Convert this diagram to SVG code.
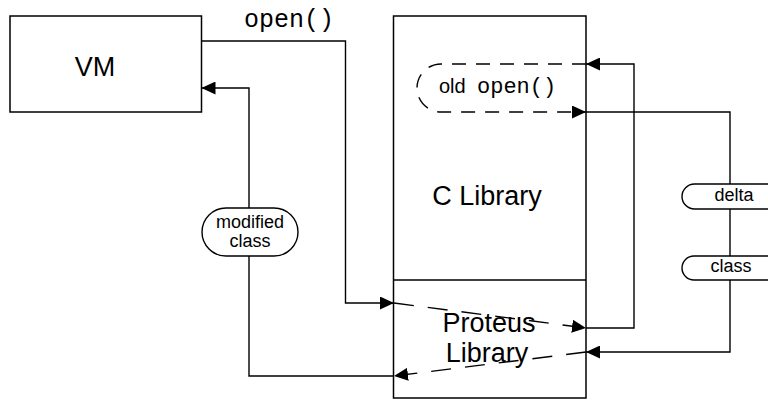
<svg xmlns="http://www.w3.org/2000/svg" width="768" height="400" viewBox="0 0 768 400">
  <style>
    .box { fill: #fff; stroke: #000; stroke-width: 1.5; }
    .pill { fill: #fff; stroke: #000; stroke-width: 1.4; }
    .wire { fill: none; stroke: #000; stroke-width: 1.4; }
    .dash { fill: none; stroke: #000; stroke-width: 1.4; stroke-dasharray: 20 14; }
    .dash-short { fill: none; stroke: #000; stroke-width: 1.4; stroke-dasharray: 14 10; }
    .sans { font-family: "Liberation Sans", Arial, sans-serif; fill: #000; }
    .mono { font-family: "Liberation Mono", "Courier New", monospace; fill: #000; }
    .big { font-size: 27px; }
    .small { font-size: 18px; }
  </style>
  <defs>
    <marker id="head" markerWidth="14" markerHeight="13" refX="14" refY="6.5" orient="auto" markerUnits="userSpaceOnUse">
      <path d="M0,0 L14,6.5 L0,13 Z" fill="#000"/>
    </marker>
  </defs>

  <rect width="768" height="400" fill="#fff"/>

  <!-- VM block -->
  <g id="vm">
    <rect class="box" x="10" y="16" width="191.5" height="96"/>
    <text class="sans big" x="95" y="76" text-anchor="middle">VM</text>
  </g>

  <!-- C library with the Proteus layer below it -->
  <g id="c-library">
    <rect class="box" x="393.5" y="16" width="192.5" height="382"/>
    <text class="sans big" x="487" y="205" text-anchor="middle">C Library</text>
  </g>
  <g id="proteus-library">
    <line class="wire" x1="393.5" y1="280" x2="586" y2="280" style="stroke-width:1.5"/>
    <text class="sans big" x="489" y="332" text-anchor="middle">Proteus</text>
    <text class="sans big" x="487" y="362" text-anchor="middle">Library</text>
  </g>

  <!-- connectors -->
  <g id="connectors">
    <!-- VM calls open() into the Proteus layer -->
    <path class="wire" d="M201.5,41 H345.5 V303 H394" marker-end="url(#head)"/>
    <path class="dash" d="M394,303 L586,328" marker-end="url(#head)"/>
    <!-- Proteus forwards to the original open() -->
    <path class="wire" d="M586,328 H634 V64 H586" marker-end="url(#head)"/>
    <path class="dash-short" d="M586,64 H441 A24,24 0 0 0 441,112 H586" marker-end="url(#head)"/>
    <!-- class bytes go out through the delta stage and come back -->
    <path class="wire" d="M586,112 H730 V184"/>
    <path class="wire" d="M730,209 V256"/>
    <path class="wire" d="M730,280 V352 H586" marker-end="url(#head)"/>
    <path class="dash" d="M586,352 L394,376" marker-end="url(#head)"/>
    <!-- modified class handed back to the VM -->
    <path class="wire" d="M394,376 H249 V256"/>
    <path class="wire" d="M249,208 V88 H201.5" marker-end="url(#head)"/>
  </g>

  <!-- labels -->
  <g id="label-open">
    <text class="mono" x="289" y="27" text-anchor="middle" font-size="25">open()</text>
  </g>
  <g id="label-old-open">
    <text class="sans" x="439" y="93" font-size="20">old</text>
    <text class="mono" x="477" y="93" font-size="22">open()</text>
  </g>
  <g id="label-modified-class">
    <rect class="pill" x="202" y="208" width="96" height="48" rx="24" ry="24"/>
    <text class="sans small" x="250" y="228" text-anchor="middle">modified</text>
    <text class="sans small" x="250" y="247" text-anchor="middle">class</text>
  </g>
  <g id="label-delta">
    <rect class="pill" x="682" y="184" width="110" height="25" rx="12.5" ry="12.5"/>
    <text class="sans small" x="734" y="201" text-anchor="middle">delta</text>
  </g>
  <g id="label-class">
    <rect class="pill" x="682" y="256" width="110" height="24" rx="12" ry="12"/>
    <text class="sans small" x="731" y="272" text-anchor="middle">class</text>
  </g>
</svg>
